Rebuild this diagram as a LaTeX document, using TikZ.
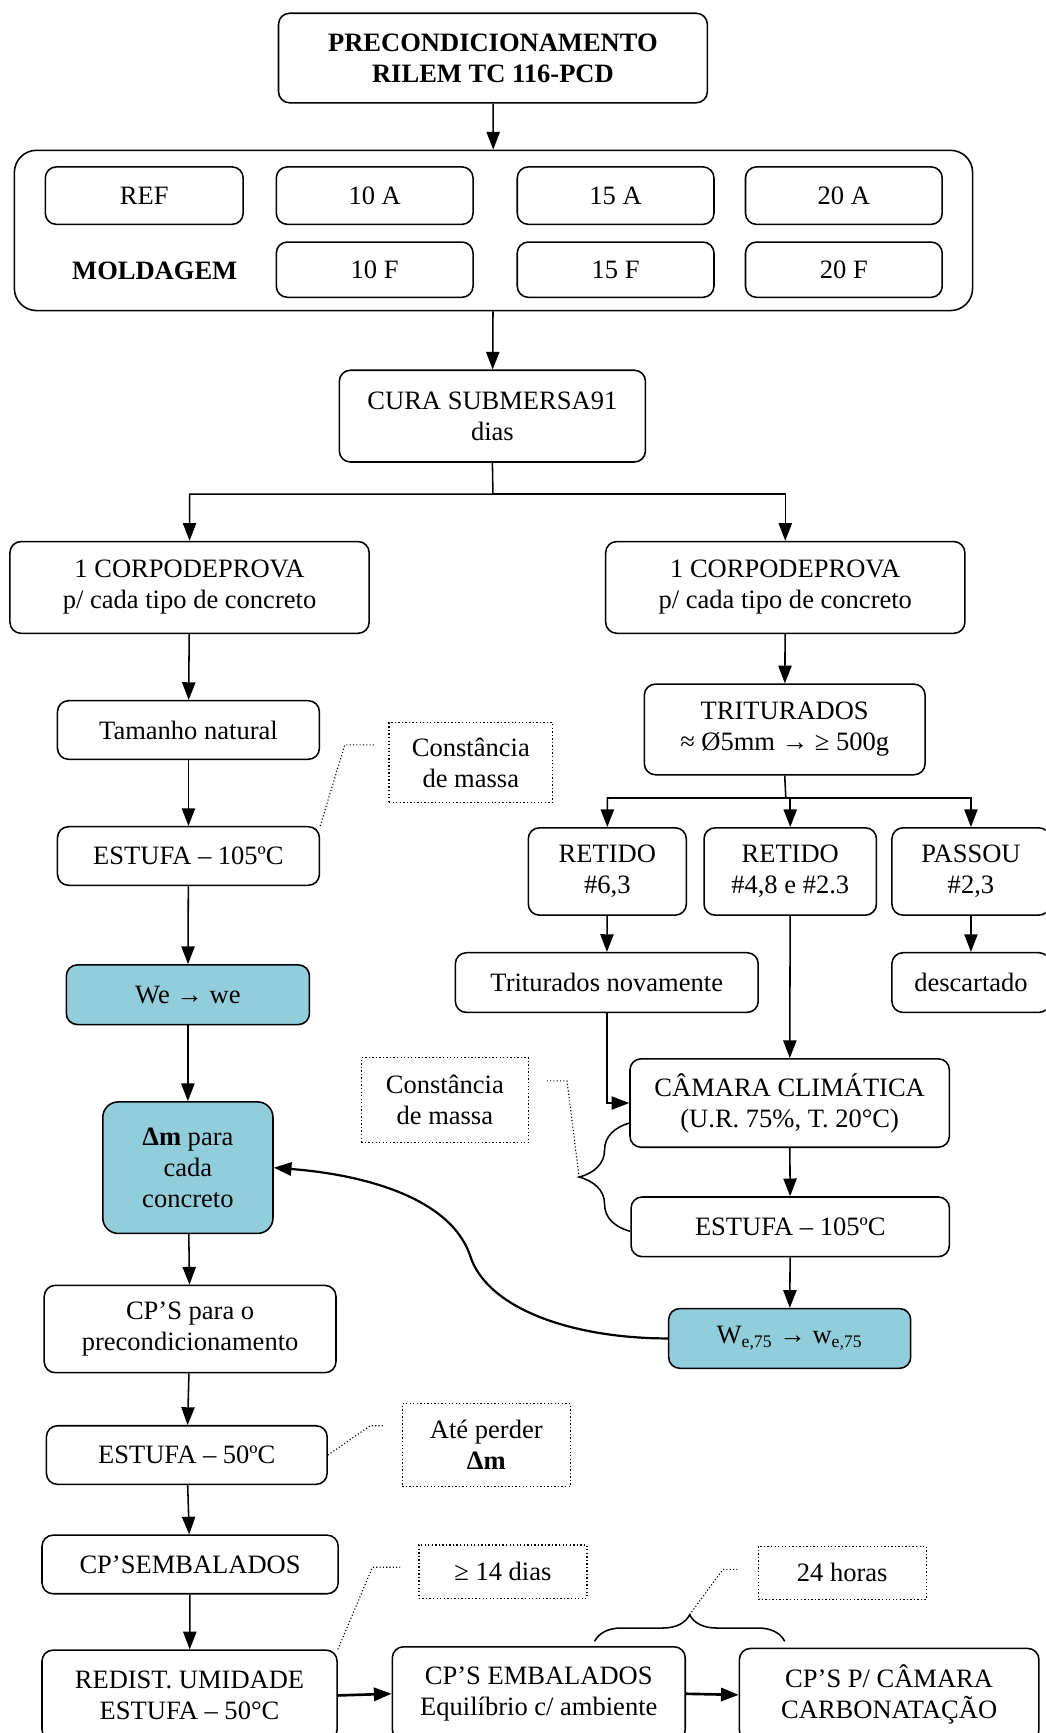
\documentclass[tikz,border=0pt]{standalone}
\usepackage{fontspec}
\setmainfont{Liberation Serif}
\usetikzlibrary{arrows.meta,decorations.pathreplacing}
\definecolor{azul}{RGB}{146,205,220}
\tikzset{
  caixa/.style={draw, line width=0.7pt, rounded corners=5pt, align=center, inner sep=2pt, fill=white},
  nota/.style={draw, densely dotted, line width=0.6pt, align=center, inner sep=2pt},
  seta/.style={-{Triangle[length=8pt,width=6pt]}, line width=0.7pt},
  pont/.style={densely dotted, line width=0.5pt},
  chave/.style={decorate, line width=0.7pt},
}
\begin{document}
\begin{tikzpicture}[x=0.5pt,y=-0.5pt,font=\fontsize{12}{14}\selectfont]
        \useasboundingbox (0,0) rectangle (946,1568);
        \clip (0,0) rectangle (946,1568);
        % topo e moldagem
        \node[caixa, minimum width=194pt, minimum height=40.5pt] (titulo) at (446,52.5) {\textbf{PRECONDICIONAMENTO}\\\textbf{RILEM TC 116-PCD}};
        \node[caixa, rounded corners=10pt, minimum width=433.5pt, minimum height=72.5pt] (grupo) at (446.5,208.5) {};
        \node[caixa, minimum width=89.5pt, minimum height=26pt] (ref) at (130.5,177) {REF};
        \node[caixa, minimum width=89pt, minimum height=26pt] (a10) at (339,177) {10 A};
        \node[caixa, minimum width=89pt, minimum height=26pt] (a15) at (557,177) {15 A};
        \node[caixa, minimum width=89pt, minimum height=26pt] (a20) at (763.5,177) {20 A};
        \node (mold) at (140,245) {\textbf{MOLDAGEM}};
        \node[caixa, minimum width=89pt, minimum height=25pt] (f10) at (339,244) {10 F};
        \node[caixa, minimum width=89pt, minimum height=25pt] (f15) at (557,244) {15 F};
        \node[caixa, minimum width=89pt, minimum height=25pt] (f20) at (763.5,244) {20 F};
        \node[caixa, minimum width=138.5pt, minimum height=41.5pt] (cura) at (445.5,376.5) {CURA SUBMERSA91\\dias};
        \draw[seta] (titulo) -- (grupo);
        \draw[seta] (grupo) -- (cura);

        % ramo esquerdo
        \node[caixa, minimum width=162.5pt, minimum height=41.5pt] (cpesq) at (171.5,531.5) {1 CORPODEPROVA\\p/ cada tipo de concreto};
        \node[caixa, minimum width=118.5pt, minimum height=26.5pt] (tam) at (170.5,660.5) {Tamanho natural};
        \node[caixa, minimum width=118.5pt, minimum height=26.5pt] (est1) at (170.5,774.5) {ESTUFA – 105ºC};
        \node[nota, minimum width=74pt, minimum height=36pt] (cm1) at (426,690) {Constância\\de massa};
        \node[caixa, fill=azul, minimum width=110pt, minimum height=27pt] (we) at (170,900) {We → we};
        \node[caixa, fill=azul, rounded corners=7pt, minimum width=77pt, minimum height=59.5pt] (dm) at (170,1056.5) {\textbf{Δm} para\\cada\\concreto};
        \node[caixa, minimum width=132pt, minimum height=39.5pt] (cpsp) at (172,1202.5) {CP’S para o\\precondicionamento};
        \node[caixa, minimum width=127pt, minimum height=26.5pt] (est50) at (169,1316.5) {ESTUFA – 50ºC};
        \node[nota, minimum width=76pt, minimum height=37.5pt] (ate) at (440,1307.5) {Até perder\\\textbf{Δm}};
        \node[caixa, minimum width=134pt, minimum height=26.5pt] (emb) at (172,1415.5) {CP’SEMBALADOS};
        \node[nota, minimum width=76pt, minimum height=24pt] (dias) at (455,1422) {≥ 14 dias};
        \node[caixa, minimum width=133.5pt, minimum height=41pt] (redist) at (171.5,1534) {REDIST. UMIDADE\\ESTUFA – 50°C};
        \node[caixa, minimum width=132.5pt, minimum height=42.5pt] (cpemb) at (487.5,1532.5) {CP’S EMBALADOS\\Equilíbrio c/ ambiente};
        \node[caixa, minimum width=135.5pt, minimum height=42pt] (cpcam) at (804.5,1533.5) {CP’S P/ CÂMARA\\CARBONATAÇÃO};
        \node[nota, minimum width=76pt, minimum height=24pt] (horas) at (762,1423) {24 horas};
        \draw[seta] (cpesq) -- (tam);
        \draw[seta] (tam) -- (est1);
        \draw[seta] (est1) -- (we);
        \draw[seta] (we) -- (dm);
        \draw[seta] (dm) -- (cpsp);
        \draw[seta] (cpsp) -- (est50);
        \draw[seta] (est50) -- (emb);
        \draw[seta] (emb) -- (redist);
        \draw[seta, line width=1.2pt] (redist.east) -- (cpemb.west);
        \draw[seta, line width=1.2pt] (cpemb.east) -- (cpcam.west);
        \draw[pont] (est1.north east) -- (312,674) -- (340,674);
        \draw[pont] (est50.east) -- (335,1290) -- (347,1290);
        \draw[pont] (redist.north east) -- (337,1418) -- (362,1418);
        \draw[chave, decoration={brace, amplitude=12pt}] (538,1485) -- (710,1485);
        \coordinate (ponta2) at (624,1461);
        \draw[pont] (ponta2) -- (654,1420) -- (669,1420);

        % ramo direito
        \node[caixa, minimum width=162.5pt, minimum height=41.5pt] (cpdir) at (710.5,531.5) {1 CORPODEPROVA\\p/ cada tipo de concreto};
        \node[caixa, minimum width=127pt, minimum height=41pt] (trit) at (710,660) {TRITURADOS\\≈ Ø5mm → ≥ 500g};
        \node[caixa, minimum width=71.5pt, minimum height=39.5pt] (r63) at (549.5,788.5) {RETIDO\\\#6,3};
        \node[caixa, minimum width=78pt, minimum height=39.5pt] (r48) at (715,788.5) {RETIDO\\\#4,8 e \#2.3};
        \node[caixa, minimum width=71.5pt, minimum height=39.5pt] (pas) at (878.5,788.5) {PASSOU\\\#2,3};
        \node[caixa, minimum width=137pt, minimum height=27pt] (trn) at (549,889) {Triturados novamente};
        \node[caixa, minimum width=71.5pt, minimum height=27pt] (desc) at (878.5,889) {descartado};
        \node[caixa, minimum width=144.5pt, minimum height=40pt] (cam) at (714.5,998) {CÂMARA CLIMÁTICA\\(U.R. 75\%, T. 20°C)};
        \node[caixa, minimum width=144pt, minimum height=27pt] (est2) at (715,1110) {ESTUFA – 105ºC};
        \node[nota, minimum width=75.5pt, minimum height=38.5pt] (cm2) at (402.5,995.5) {Constância\\de massa};
        \node[caixa, fill=azul, minimum width=109.5pt, minimum height=27pt] (we75) at (714.5,1211) {W\textsubscript{e,75} → w\textsubscript{e,75}};
        \coordinate (div1) at (446,447);
        \draw[seta] (cura.south) -- (div1) -| (cpesq.north);
        \draw[seta] (div1) -| (cpdir.north);
        \draw[seta] (cpdir) -- (trit);
        \coordinate (div2) at (711,722);
        \draw[seta] (trit.south) -- (div2) -| (r63.north);
        \draw[seta] (div2) -| (r48.north);
        \draw[seta] (div2) -| (pas.north);
        \draw[seta] (r63) -- (trn);
        \draw[seta] (pas) -- (desc);
        \draw[seta] (trn.south) |- (cam.west);
        \draw[seta] (r48) -- (cam);
        \draw[seta] (cam) -- (est2);
        \draw[seta] (est2) -- (we75);
        \draw[chave, decoration={brace, amplitude=23pt}] (570,1114) -- (570,1016);
        \coordinate (ponta1) at (524,1065);
        \draw[pont] (ponta1) -- (513,978) -- (495,978);
        \coordinate (curva) at (425,1135);
        \draw[seta, line width=1pt] (we75.west) .. controls (520,1211) and (440,1185) .. (curva)
            .. controls (405,1080) and (320,1062) .. (dm.east);
        \end{tikzpicture}
\end{document}
